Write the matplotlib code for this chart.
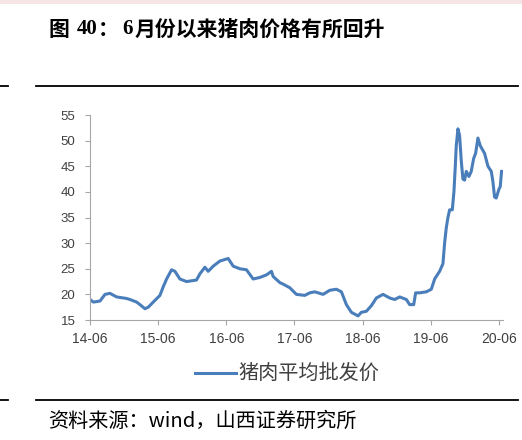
import matplotlib
matplotlib.use("Agg")
import matplotlib.pyplot as plt
from matplotlib.lines import Line2D
from matplotlib.patches import Rectangle

plt.rcParams['font.family'] = ['Noto Sans CJK SC', 'DejaVu Sans']

# Data: time in decimal years, pork average wholesale price (yuan/kg)
years = [2014.500, 2014.549, 2014.647, 2014.720, 2014.793, 2014.891, 2015.037, 2015.086,
         2015.184, 2015.233, 2015.306, 2015.355, 2015.428, 2015.526, 2015.575, 2015.624,
         2015.697, 2015.746, 2015.819, 2015.917, 2016.063, 2016.112, 2016.186, 2016.234,
         2016.308, 2016.405, 2016.528, 2016.601, 2016.699, 2016.796, 2016.894, 2016.992,
         2017.089, 2017.163, 2017.187, 2017.285, 2017.334, 2017.431, 2017.529, 2017.651,
         2017.725, 2017.798, 2017.920, 2018.018, 2018.115, 2018.189, 2018.262, 2018.335,
         2018.433, 2018.482, 2018.555, 2018.629, 2018.702, 2018.800, 2018.897, 2018.971,
         2019.044, 2019.142, 2019.190, 2019.239, 2019.250, 2019.278, 2019.337, 2019.435,
         2019.508, 2019.557, 2019.630, 2019.679, 2019.703, 2019.728, 2019.752, 2019.777,
         2019.816, 2019.840, 2019.860, 2019.874, 2019.899, 2019.923, 2019.948, 2019.972,
         2019.997, 2020.021, 2020.060, 2020.094, 2020.129, 2020.158, 2020.192, 2020.226,
         2020.290, 2020.339, 2020.388, 2020.412, 2020.436, 2020.461, 2020.500, 2020.519,
         2020.539]
prices = [19.0, 18.5, 18.7, 20.0, 20.2, 19.5, 19.2, 19.0,
          18.5, 18.0, 17.2, 17.5, 18.5, 19.8, 21.5, 23.0,
          24.8, 24.5, 23.0, 22.5, 22.8, 24.0, 25.3, 24.5,
          25.5, 26.5, 27.0, 25.5, 25.0, 24.8, 23.0, 23.3,
          23.8, 24.5, 23.5, 22.3, 22.0, 21.3, 20.0, 19.8,
          20.3, 20.5, 20.0, 20.8, 21.0, 20.5, 18.0, 16.5,
          15.8, 16.5, 16.7, 17.8, 19.3, 20.0, 19.3, 19.0,
          19.5, 19.0, 18.0, 18.0, 18.0, 20.3, 20.3, 20.5,
          21.0, 23.0, 24.5, 26.0, 30.0, 33.0, 35.0, 36.5,
          36.5, 40.0, 45.0, 49.0, 52.3, 51.0, 46.0, 42.5,
          42.3, 44.0, 43.0, 44.0, 46.5, 47.5, 50.5, 49.0,
          47.5, 45.0, 44.0, 42.0, 39.0, 38.8, 40.5, 41.0,
          44.0]

xtick_pos = [2014.5, 2015.5, 2016.5, 2017.5, 2018.5, 2019.5, 2020.5]
xtick_labels = ["14-06", "15-06", "16-06", "17-06", "18-06", "19-06", "20-06"]
ytick_pos = [15, 20, 25, 30, 35, 40, 45, 50, 55]

title_parts = ["图", "40", "：", "6", "月份以来猪肉价格有所回升"]
series_name = "猪肉平均批发价"
source = "资料来源：wind，山西证券研究所"

W, H = 522, 440
fig = plt.figure(figsize=(W / 100, H / 100), dpi=100)

def fx(px):
    return px / W

def fy(py):
    return 1 - py / H

line_color = "#4a7ebb"

# top pink strip
fig.patches.append(Rectangle((0, fy(4)), 1, 4 / H, transform=fig.transFigure,
                             facecolor="#f7e4e4", edgecolor="none"))

ax = fig.add_axes([fx(90), fy(320), fx(503) - fx(90), (320 - 115) / H])
ax.plot(years, prices, color=line_color, lw=2.2, solid_joinstyle="round")
ax.set_xlim(2014.5, 2020.56)
ax.set_ylim(15, 55)
ax.set_xticks(xtick_pos)
ax.set_xticklabels(xtick_labels)
ax.set_yticks(ytick_pos)
for s in ["top", "right"]:
    ax.spines[s].set_visible(False)
for s in ["left", "bottom"]:
    ax.spines[s].set_color("#a6a6a6")
    ax.spines[s].set_linewidth(0.8)
ax.tick_params(axis="x", direction="out", length=3.5, color="#a6a6a6", width=0.8,
               labelsize=10, labelcolor="#404040", pad=5)
ax.tick_params(axis="y", direction="out", length=3.5, color="#a6a6a6", width=0.8,
               labelsize=9.5, labelcolor="#404040", pad=7)
for lab in ax.get_xticklabels() + ax.get_yticklabels():
    lab.set_family(["Liberation Sans", "DejaVu Sans"])

# title, placed in pieces to match the original spacing
title_x = [48, 77, 98, 122, 135]
title_fam = [["Noto Sans CJK SC"], ["Liberation Serif"], ["Noto Sans CJK SC"],
             ["Liberation Serif"], ["Noto Sans CJK SC"]]
for part, px, fam in zip(title_parts, title_x, title_fam):
    fig.text(fx(px), fy(29), part, fontsize=15, fontweight="bold", ha="left",
             va="center", color="#000000", family=fam)

# rules
for yy in (86, 400):
    fig.add_artist(Line2D([fx(36), fx(518)], [fy(yy), fy(yy)], color="#000000", lw=1.3,
                          transform=fig.transFigure))
    fig.add_artist(Line2D([fx(0), fx(8)], [fy(yy), fy(yy)], color="#000000", lw=1.3,
                          transform=fig.transFigure))

# legend
fig.add_artist(Line2D([fx(195), fx(236)], [fy(373), fy(373)], color=line_color, lw=2.2,
                      transform=fig.transFigure))
fig.text(fx(238), fy(373), series_name, fontsize=14.5, ha="left", va="center",
         color="#404040")

# source
fig.text(fx(48), fy(421), source, fontsize=14.5, ha="left", va="center", color="#000000")

fig.savefig("out.png", dpi=100)
